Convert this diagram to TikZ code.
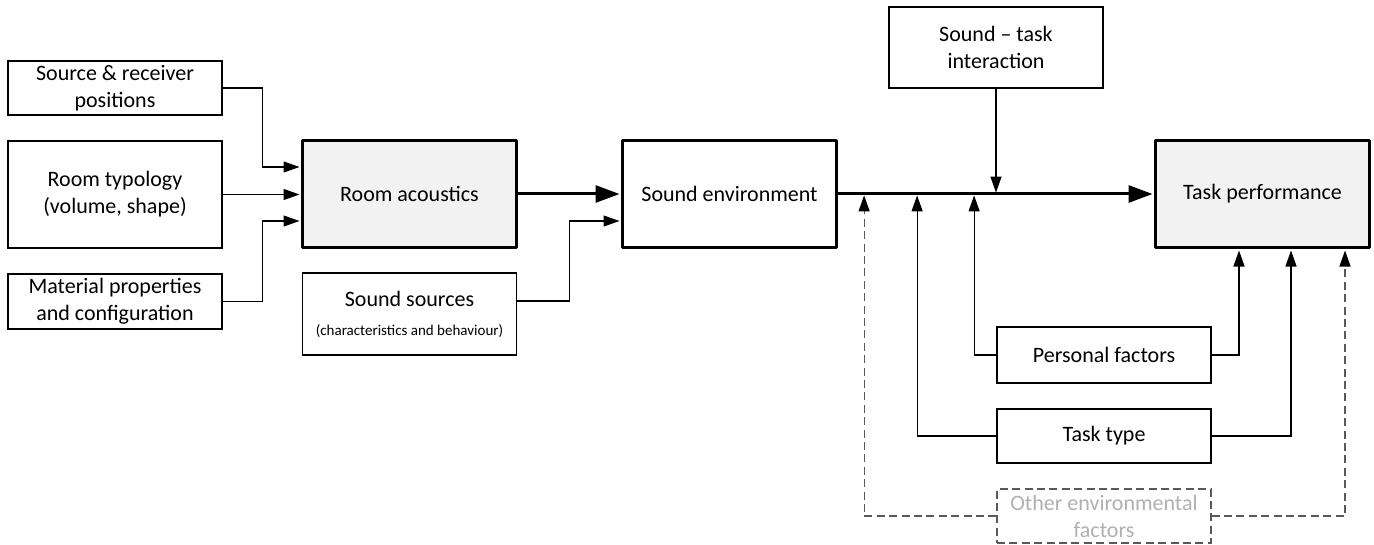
\documentclass[tikz,border=0pt]{standalone}
\usepackage{fontspec}
\setmainfont{Carlito}
\usepackage{xcolor}
\usetikzlibrary{arrows.meta}
\definecolor{keyfill}{HTML}{F2F2F2}
\definecolor{ghostline}{HTML}{595959}
\definecolor{ghosttext}{HTML}{B0B0B0}
\tikzset{block/.style={draw=black, line width=0.6pt, minimum width=107pt, inner sep=0pt, align=center, font=\fontsize{11}{13.5}\selectfont}}
\tikzset{keyblock/.style={block, line width=1.6pt, line join=round, minimum height=53.5pt}}
\tikzset{link/.style={line width=0.6pt, shorten >=0.7pt, -{Triangle[length=8pt, width=5.5pt, color=black]}}}
\tikzset{mainlink/.style={line width=1.5pt, shorten >=0.7pt, -{Triangle[length=12pt, width=8.5pt]}}}
\tikzset{dashlink/.style={link, draw=ghostline, dash pattern=on 4pt off 2.2pt}}

\begin{document}
\begin{tikzpicture}[x=0.5pt, y=-0.5pt]
\useasboundingbox (0,0) rectangle (1374,545);
\node[block, minimum height=27pt] (src) at (115,88) {Source \& receiver\\positions};
\node[block, minimum height=53.5pt] (typo) at (115,194.5) {Room typology\\(volume, shape)};
\node[block, minimum height=27.5pt] (mat) at (115,301.5) {Material properties\\and configuration};
\node[keyblock, fill=keyfill] (ra) at (409.5,194) {Room acoustics};
\node[block, minimum height=41pt] (ss) at (409.5,314) {Sound sources\\[1pt]{\fontsize{7.5}{9}\selectfont (characteristics and behaviour)}};
\node[keyblock] (se) at (729.5,194) {Sound environment};
\node[keyblock, fill=keyfill] (tp) at (1262.5,194) {Task performance};
\node[block, minimum height=40.5pt] (sti) at (996,47.5) {Sound -- task\\interaction};
\node[block, minimum height=28pt] (pf) at (1104,355) {Personal factors};
\node[block, minimum height=27pt] (tt) at (1104,436) {Task type};
\node[block, draw=ghostline, dash pattern=on 4pt off 2.2pt, text=ghosttext, minimum height=27pt] (oe) at (1104,516) {Other environmental\\factors};
\coordinate (tapO) at ([xshift=13pt]se.east);
\coordinate (tapT) at ([xshift=39.5pt]se.east);
\coordinate (tapP) at ([xshift=68pt]se.east);

\draw[link] (src.east) -- ++(40,0) |- ([yshift=13.5pt]ra.west);
\draw[link] (typo.east) -- (typo.east -| ra.west);
\draw[link] (mat.east) -- ++(40,0) |- ([yshift=-13.5pt]ra.west);
\draw[mainlink] (ra) -- (se);
\draw[link] ([yshift=6.5pt]ss.east) -- ++(52,0) |- ([yshift=-13.5pt]se.west);
\draw[mainlink] (se) -- (tp);
\draw[link] (sti.south) -- (sti.south |- se.east);
\draw[link] (pf.west) -| (tapP);
\draw[link] (tt.west) -| (tapT);
\draw[dashlink] (oe.west) -| (tapO);
\draw[link] (pf.east) -| ([xshift=-11.75pt]tp.south);
\draw[link] (tt.east) -| ([xshift=14.25pt]tp.south);
\draw[dashlink] (oe.east) -| ([xshift=41.25pt]tp.south);
\end{tikzpicture}
\end{document}
